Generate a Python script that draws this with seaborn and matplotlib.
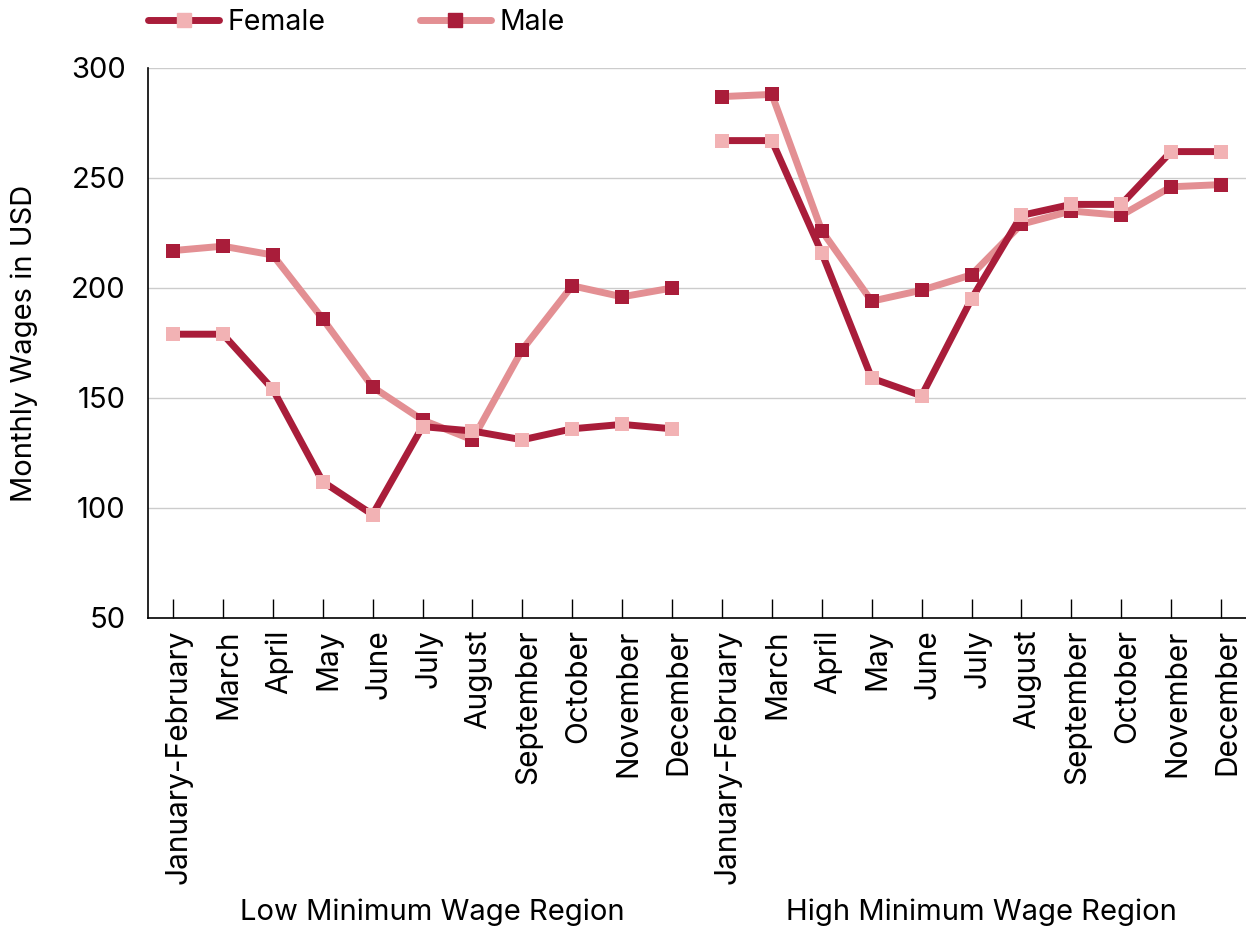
import numpy as np
import pandas as pd
import matplotlib
matplotlib.use("Agg")
import matplotlib.pyplot as plt
import matplotlib.transforms as mtransforms
from matplotlib.lines import Line2D
import seaborn as sns

# --- datos ---
months = ["January-February", "March", "April", "May", "June", "July",
          "August", "September", "October", "November", "December"]
regions = ["Low Minimum Wage Region", "High Minimum Wage Region"]

female_low = [179, 179, 154, 112, 97, 137, 135, 131, 136, 138, 136]
male_low = [217, 219, 215, 186, 155, 140, 131, 172, 201, 196, 200]
female_high = [267, 267, 216, 159, 151, 195, 233, 238, 238, 262, 262]
male_high = [287, 288, 226, 194, 199, 206, 229, 235, 233, 246, 247]

DARK = "#A91D3A"
LIGHT_LINE = "#E38F93"
LIGHT_MARK = "#F2B2B4"


def build_frame():
    rows = []
    series = {
        ("Female", regions[0]): female_low,
        ("Male", regions[0]): male_low,
        ("Female", regions[1]): female_high,
        ("Male", regions[1]): male_high,
    }
    for (gender, region), vals in series.items():
        offset = regions.index(region) * len(months)
        for i, v in enumerate(vals):
            rows.append({"gender": gender, "region": region,
                         "pos": offset + i, "wage": v})
    return pd.DataFrame(rows)


df = build_frame()

sns.set_style("white")
plt.rcParams["font.family"] = ["Inter", "DejaVu Sans"]
plt.rcParams["text.color"] = "black"
plt.rcParams["xtick.color"] = "black"
plt.rcParams["ytick.color"] = "black"
plt.rcParams["axes.labelcolor"] = "black"

fig = plt.figure(figsize=(12.46, 9.26), dpi=100)
ax = fig.add_axes([148 / 1246, 1 - 618 / 926, 1 - 148 / 1246, (618 - 68) / 926])

styles = {
    "Male": dict(color=LIGHT_LINE, markerfacecolor=DARK),
    "Female": dict(color=DARK, markerfacecolor=LIGHT_MARK),
}

# male primero para que female quede encima
for g in ["Male", "Female"]:
    sns.lineplot(data=df[df.gender == g], x="pos", y="wage", units="region",
                 estimator=None, ax=ax, marker="s", markersize=9.5,
                 markeredgewidth=0, linewidth=5, legend=False,
                 color=styles[g]["color"],
                 markerfacecolor=styles[g]["markerfacecolor"],
                 markeredgecolor=styles[g]["markerfacecolor"])

ax.set_xlim(-0.5, 2 * len(months) - 0.5)
ax.set_ylim(50, 300)
ax.set_yticks([50, 100, 150, 200, 250, 300])
ax.yaxis.grid(True, color="#CCCCCC", linewidth=1)
ax.set_axisbelow(True)

ax.set_xticks(range(2 * len(months)))
ax.set_xticklabels(months * 2, rotation=90)
ax.tick_params(axis="x", direction="in", length=14, width=1, color="black",
               labelsize=21.5, pad=8, bottom=True)
ax.tick_params(axis="y", length=0, labelsize=21, pad=16)

# las etiquetas del eje x van un poco a la derecha del tick
shift = mtransforms.ScaledTranslation(6 / 100, 0, fig.dpi_scale_trans)
for lbl in ax.get_xticklabels():
    lbl.set_transform(lbl.get_transform() + shift)

for s in ["top", "right"]:
    ax.spines[s].set_visible(False)
for s in ["left", "bottom"]:
    ax.spines[s].set_color("black")
    ax.spines[s].set_linewidth(1.2)

ax.set_xlabel("")
ax.set_ylabel("Monthly Wages in USD", fontsize=21)
ax.yaxis.set_label_coords(-0.1, 0.5)

# etiquetas de region
trans = mtransforms.blended_transform_factory(ax.transData, ax.transAxes)
for k, reg in enumerate(regions):
    center = k * len(months) + (len(months) - 1) / 2 + 0.2
    ax.text(center, -0.535, reg, transform=trans, ha="center", va="center",
            fontsize=21)

handles = [
    Line2D([], [], color=DARK, linewidth=5, marker="s", markersize=9.5,
           markerfacecolor=LIGHT_MARK, markeredgecolor=LIGHT_MARK),
    Line2D([], [], color=LIGHT_LINE, linewidth=5, marker="s", markersize=9.5,
           markerfacecolor=DARK, markeredgecolor=DARK),
]
fig.legend(handles, ["Female", "Male"], loc="center left",
           bbox_to_anchor=(148 / 1246, 1 - 22 / 926), ncol=2, frameon=False,
           fontsize=20.5, handlelength=2.5, handletextpad=0.3,
           columnspacing=3.3, borderpad=0, borderaxespad=0)

fig.savefig("out.png", dpi=100)
